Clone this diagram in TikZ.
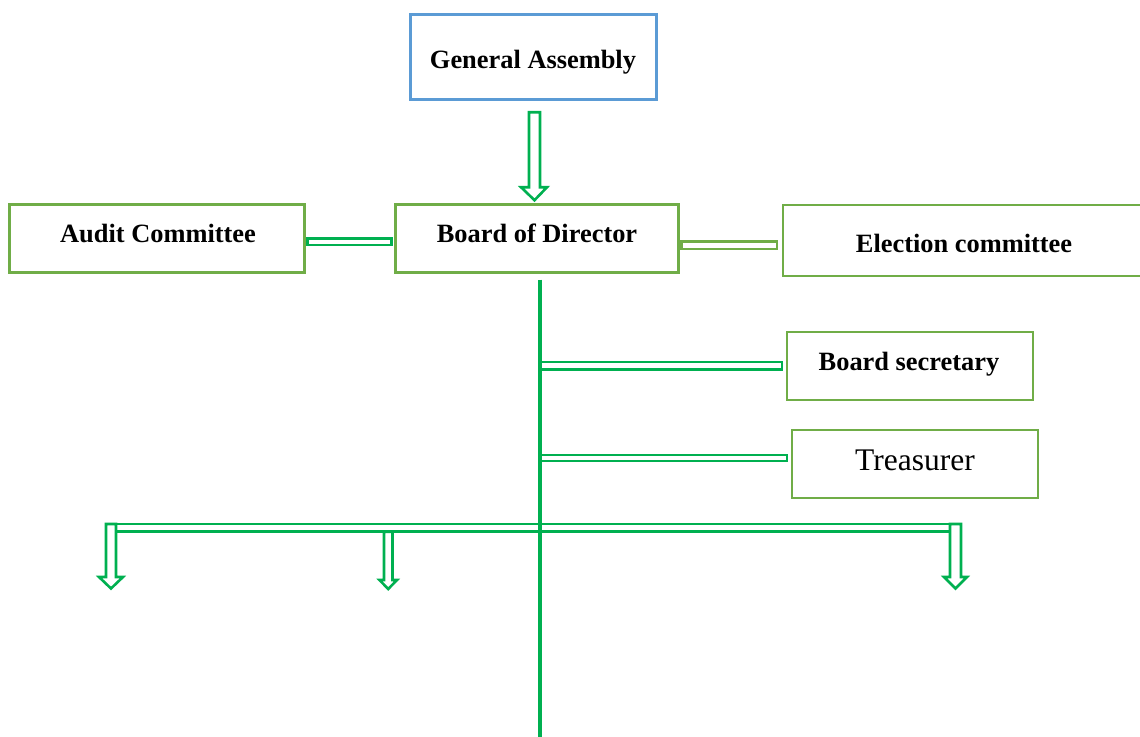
\documentclass[tikz,border=0pt]{standalone}
\usepackage{fontspec}
\setmainfont{Liberation Serif}
\usetikzlibrary{calc}
\definecolor{boxgreen}{HTML}{70AD47}
\definecolor{linegreen}{HTML}{00B050}
\definecolor{boxblue}{HTML}{5B9BD5}
\begin{document}
\begin{tikzpicture}[x=1pt,y=-1pt,
  box/.style={draw=boxgreen,line width=2.4pt,fill=white,inner sep=0pt},
  lbl/.style={font=\fontsize{26.4}{30}\selectfont\bfseries,inner sep=0pt,text height=17.5pt,text depth=0pt},
  plainlbl/.style={font=\fontsize{31.5}{36}\selectfont,inner sep=0pt,text height=20.5pt,text depth=0pt},
  hollow/.style={draw=linegreen,line width=2.6pt,fill=white,line join=miter},
  hollowlight/.style={hollow,draw=boxgreen},
  trunk/.style={draw=linegreen,line width=3.3pt}]
\useasboundingbox (0,0) rectangle (1140,736);
% boxes
\node[box,draw=boxblue,minimum width=246pt,minimum height=85pt] (ga) at (533.5,57) {};
\node[box,minimum width=295pt,minimum height=68pt] (audit) at (157,238.5) {};
\node[box,minimum width=283pt,minimum height=68pt] (bod) at (537,238.5) {};
\node[box,minimum width=362pt,minimum height=71pt] (elect) at (964,240.5) {};
\node[box,minimum width=246pt,minimum height=68pt] (sec) at (910,366) {};
\node[box,minimum width=246pt,minimum height=68pt] (tre) at (915,464) {};
% labels
\node[lbl] (tga) at (533,59.5) {General Assembly};
\node[lbl] (taudit) at (158,233.5) {Audit Committee};
\node[lbl] (tbod) at (537,233.5) {Board of Director};
\node[lbl] (telect) at (964,243.5) {Election committee};
\node[lbl] (tsec) at (909,361.5) {Board secretary};
\node[plainlbl] (ttre) at (915,460.5) {Treasurer};
% GA -> Board arrow
\draw[hollow] ($(ga.south)+(-4.5,11.5)$) -- ++(11,0) -- ++(0,75) -- ++(7,0) -- ++(-12.5,13) -- ++(-13.5,-13) -- ++(8,0) -- cycle;
% side bars
\draw[hollow] ($(audit.east)+(1.5,0)$) rectangle ($(bod.west)+(-3,6.5)$);
\draw[hollowlight] ($(bod.east)+(1.5,3)$) rectangle ($(elect.west)+(-5,8.5)$);
% coordinates of the trunk
\coordinate (trunktop) at ($(bod.south)+(3,6)$);
\coordinate (trunkbot) at (540,740);
% bottom bar and arrows
\coordinate (barL) at (106,524);
\coordinate (barR) at (961,531.7);
\draw[hollow] (barL) rectangle (barR);
\draw[hollow] (barL) -- ++(10,0) -- ++(0,53) -- ++(7,0) -- ++(-12,11.5) -- ++(-12,-11.5) -- ++(7,0) -- cycle;
\draw[hollow] (384,531.7) -- ++(8.5,0) -- ++(0,48.3) -- ++(4.5,0) -- ++(-8.8,9) -- ++(-8.7,-9) -- ++(4.5,0) -- cycle;
\draw[hollow] (950,524) -- ++(11,0) -- ++(0,53) -- ++(6,0) -- ++(-11.5,11.5) -- ++(-11.5,-11.5) -- ++(6,0) -- cycle;
% secretary and treasurer bars
\draw[hollow] (trunktop |- 0,362) rectangle ($(sec.west)+(-4,3.5)$);
\draw[hollow] (trunktop |- 0,455) rectangle ($(tre.west)+(-4,-3)$);
% trunk
\draw[trunk] (trunktop) -- (trunkbot);
\end{tikzpicture}
\end{document}
